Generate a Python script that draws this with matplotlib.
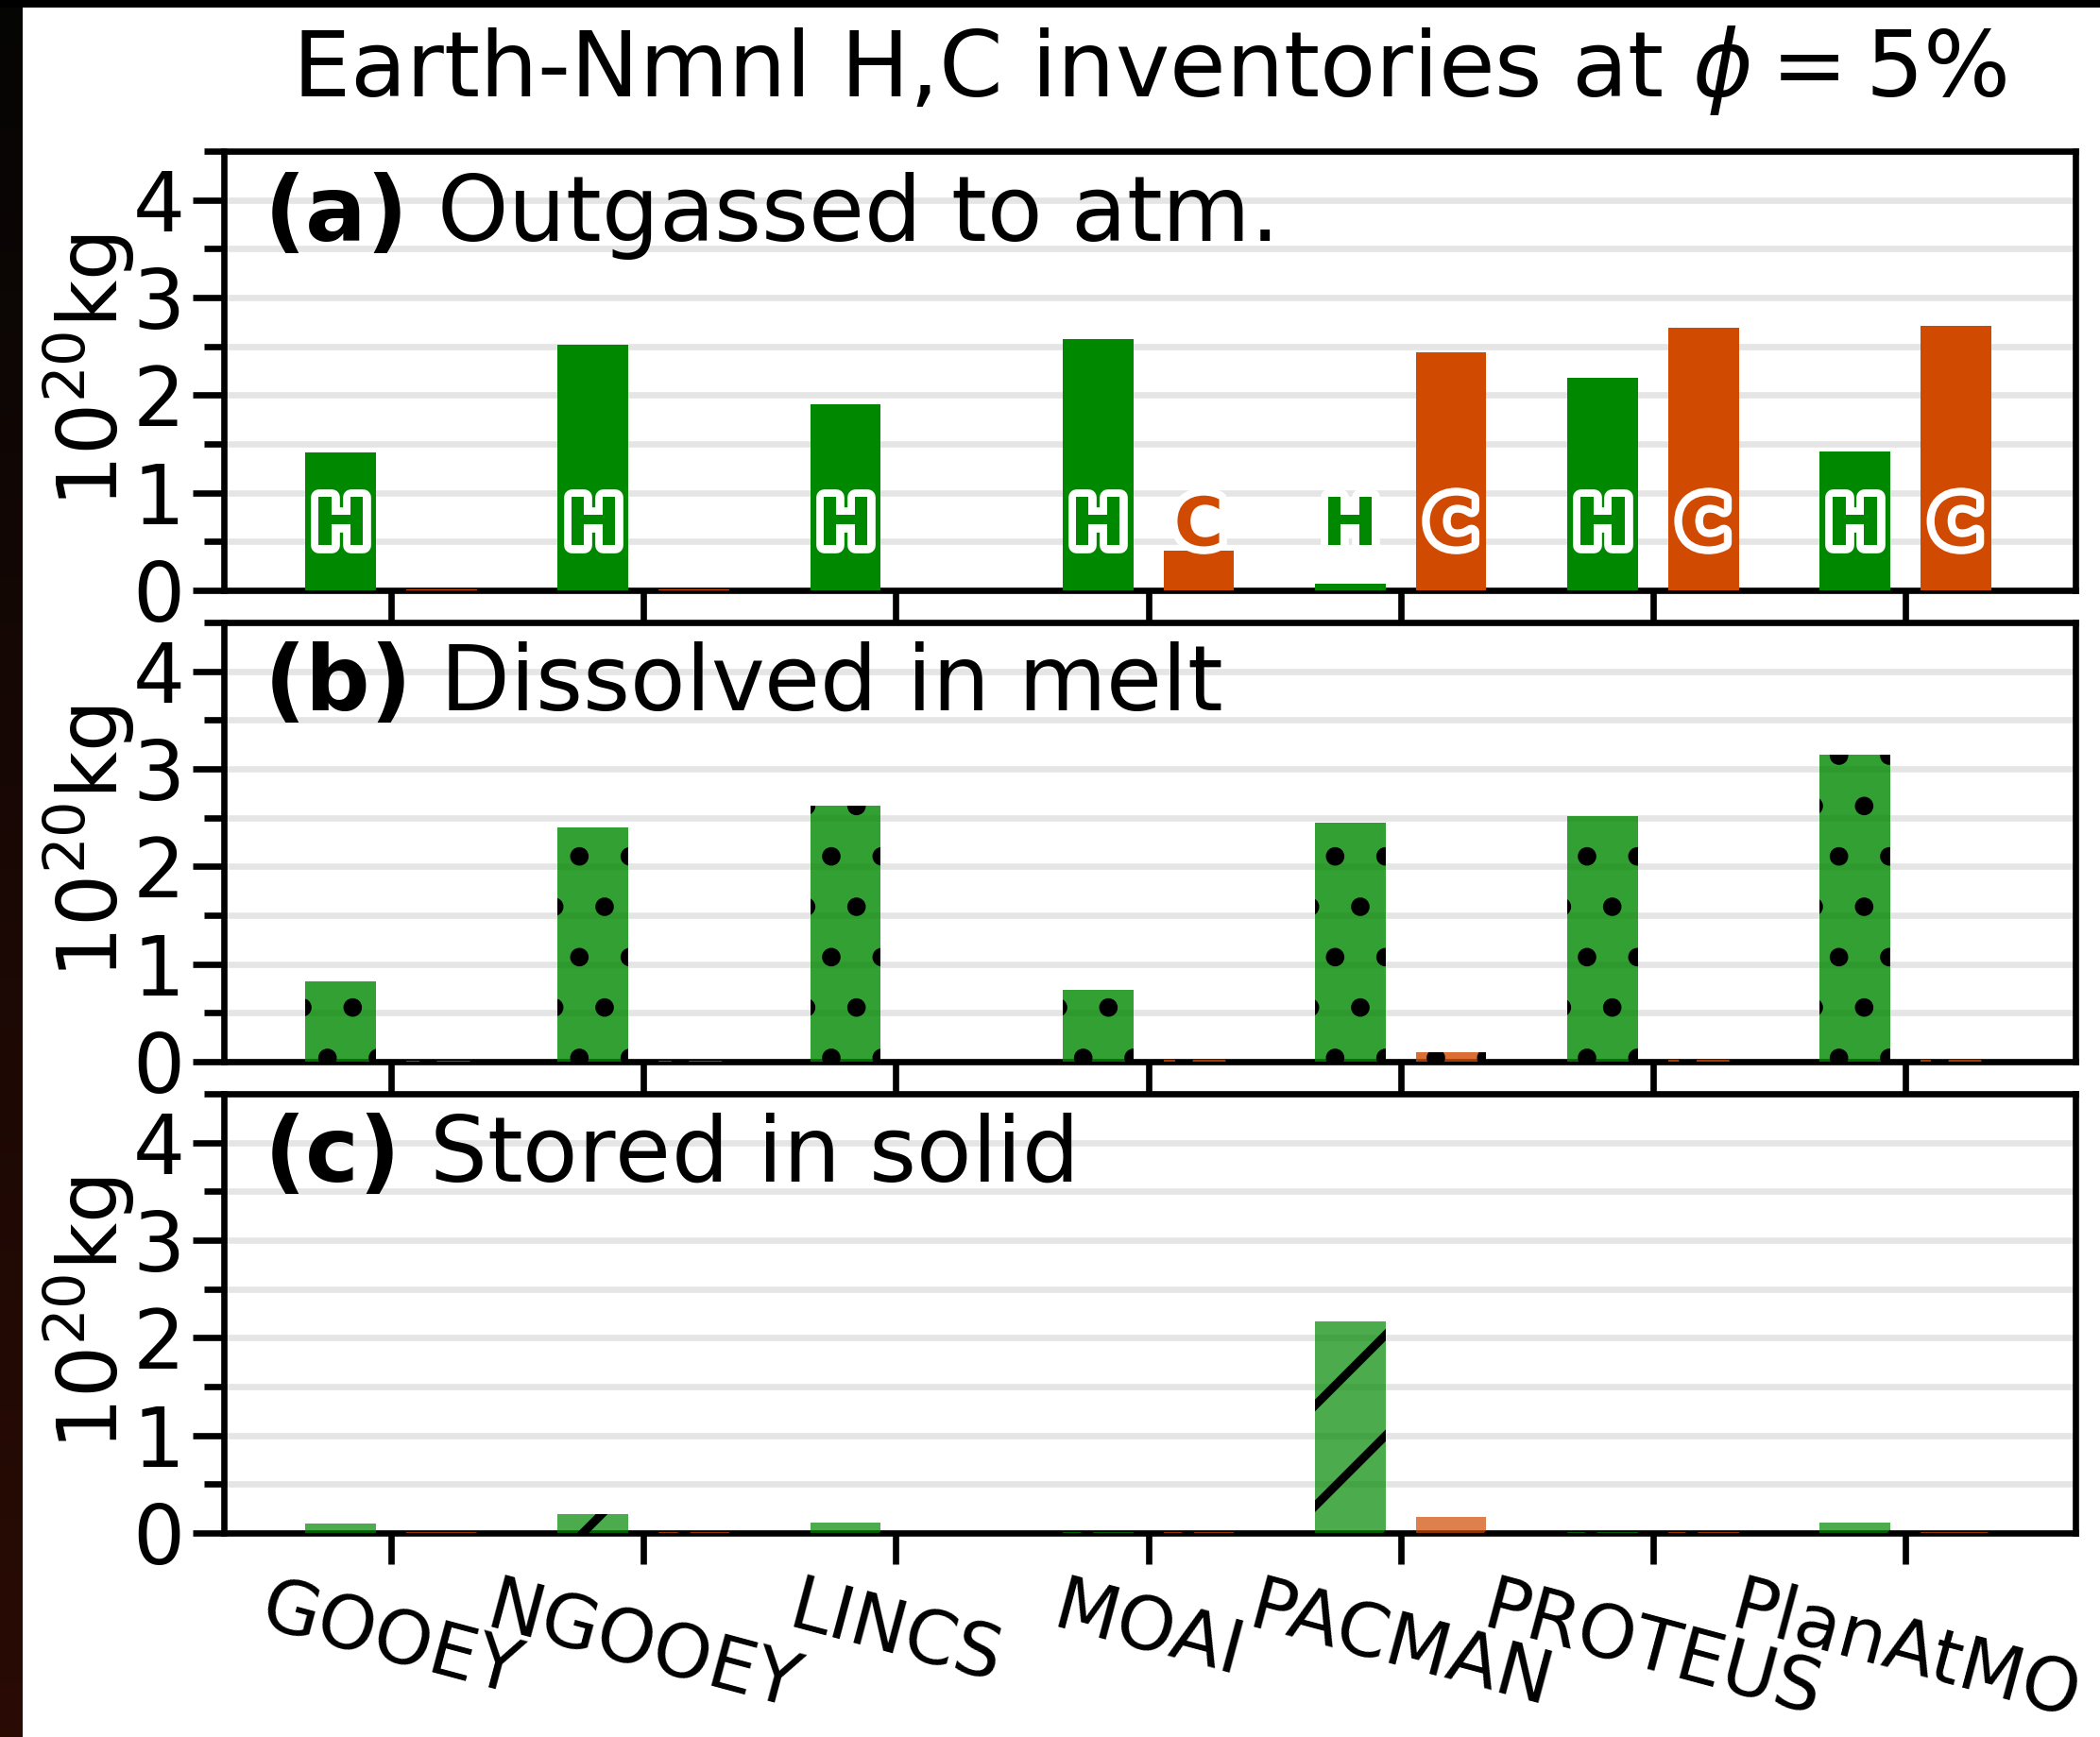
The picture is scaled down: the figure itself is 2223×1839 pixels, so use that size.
import numpy as np
import matplotlib
matplotlib.use("Agg")
import matplotlib.pyplot as plt
import matplotlib.patheffects as pe
from matplotlib.colors import to_rgba, LinearSegmentedColormap
from matplotlib.ticker import MultipleLocator

# ---------------- data ----------------
models = ["GOOEY", "NGOOEY", "LINCS", "MOAI", "PACMAN", "PROTEUS", "PlanAtMO"]

outgassed_H = [1.41, 2.52, 1.91, 2.57, 0.07, 2.18, 1.42]
outgassed_C = [0.01, 0.01, 0.0, 0.41, 2.44, 2.69, 2.71]

dissolved_H = [0.82, 2.40, 2.62, 0.74, 2.45, 2.52, 3.15]
dissolved_C = [0.01, 0.01, 0.0, 0.02, 0.10, 0.02, 0.02]

solid_H = [0.10, 0.19, 0.11, 0.01, 2.17, 0.01, 0.11]
solid_C = [0.01, 0.01, 0.0, 0.01, 0.16, 0.01, 0.01]

panel_titles = ["Outgassed to atm.", "Dissolved in melt", "Stored in solid"]
panel_letters = ["(a)", "(b)", "(c)"]
title = r"Earth-Nmnl H,C inventories at $\phi = 5\%$"
ylabel = r"$10^{20}$kg"

# ---------------- style ----------------
GREEN = "#008800"
ORANGE = "#d14a02"
W, H = 2223, 1839
DPI = 320
plt.rcParams["font.family"] = ["DejaVu Sans"]
plt.rcParams["hatch.linewidth"] = 2.0
plt.rcParams["hatch.color"] = "black"

fig = plt.figure(figsize=(W / DPI, H / DPI), dpi=DPI, facecolor="white")

# dark background strips (image edge visible in reference)
bg_left = fig.add_axes([0, 0, 24 / W, 1])
grad = np.linspace(0, 1, 256).reshape(-1, 1)
cm = LinearSegmentedColormap.from_list("bg", ["#050505", "#1a0804", "#2a0b04"])
bg_left.imshow(grad, aspect="auto", cmap=cm, extent=[0, 1, 0, 1])
bg_left.set_axis_off()
bg_top = fig.add_axes([0, 1 - 8 / H, 1, 8 / H])
bg_top.set_facecolor("black")
bg_top.set_xticks([]); bg_top.set_yticks([])
for s in bg_top.spines.values():
    s.set_visible(False)

left = 237 / W
width = (2197 - 237) / W
tops = [160, 659, 1158]
hgt = 465 / H

data = [(outgassed_H, outgassed_C), (dissolved_H, dissolved_C), (solid_H, solid_C)]
hatches = [None, ".", "/"]
alphas = [1.0, 0.8, 0.7]

x = np.arange(len(models))
bw = 0.28
off = 0.2

for i in range(3):
    bottom = 1 - (tops[i] + 465) / H
    ax = fig.add_axes([left, bottom, width, hgt])
    hv, cv = data[i]
    ax.bar(x - off, hv, width=bw, color=to_rgba(GREEN, alphas[i]),
           hatch=hatches[i], zorder=3, linewidth=0)
    ax.bar(x + off, cv, width=bw, color=to_rgba(ORANGE, alphas[i]),
           hatch=hatches[i], zorder=3, linewidth=0)

    ax.set_ylim(0, 4.5)
    ax.set_xlim(-0.663, 6.674)
    ax.yaxis.set_major_locator(MultipleLocator(1))
    ax.yaxis.set_minor_locator(MultipleLocator(0.5))
    ax.grid(True, axis="y", which="both", color="#e5e5e5", lw=1.5, zorder=0)
    ax.set_axisbelow(True)
    for s in ax.spines.values():
        s.set_linewidth(1.5)
    ax.tick_params(axis="y", which="major", length=7.5, width=1.5, pad=1.8, labelsize=19.5)
    ax.tick_params(axis="y", which="minor", length=4.7, width=1.5)
    ax.tick_params(axis="x", which="major", length=7.5, width=1.5, pad=1.8, labelsize=17.6)
    ax.set_xticks(x)
    if i < 2:
        ax.set_xticklabels([])
    else:
        ax.set_xticklabels(models, rotation=-15, ha="center", va="top")
    ax.set_ylabel(ylabel, fontsize=19.5, labelpad=-1)

    ax.text(0.0215, 0.958, r"$\mathbf{" + panel_letters[i] + "}$ " + panel_titles[i],
            transform=ax.transAxes, fontsize=21.6, va="top", ha="left", zorder=5)

    if i == 0:
        stroke = [pe.withStroke(linewidth=3.75, foreground="white")]
        for j in range(len(models)):
            if hv[j] > 0.03:
                ax.text(x[j] - off, 0.46, "H", color=GREEN, fontsize=16,
                        fontweight="bold", ha="center", va="baseline",
                        path_effects=stroke, zorder=6)
            if cv[j] > 0.03:
                ax.text(x[j] + off, 0.46, "C", color=ORANGE, fontsize=16,
                        fontweight="bold", ha="center", va="baseline",
                        path_effects=stroke, zorder=6)
        ax.set_title(title, fontsize=21.8, pad=13)

fig.savefig("out.png", dpi=DPI, facecolor="white")
